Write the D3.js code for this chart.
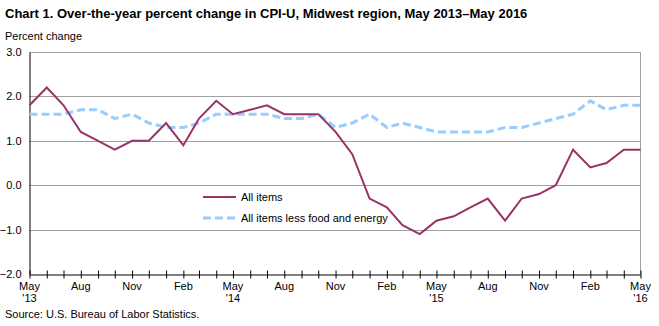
<!DOCTYPE html>
<html>
<head>
<meta charset="utf-8">
<script src="https://cdn.jsdelivr.net/npm/d3@7"></script>
<style>
    body { margin: 0; background: #fff; }
    svg { display: block; font-family: Arial, "Liberation Sans", sans-serif; }
</style>
</head>
<body>
<svg id="chart"></svg>
<script>
// monthly values, May 2013 .. May 2016
const months = d3.range(37).map(i => new Date(2013, 4 + i, 1));
const allItems = [1.8, 2.2, 1.8, 1.2, 1.0, 0.8, 1.0, 1.0, 1.4, 0.9, 1.5, 1.9,
    1.6, 1.7, 1.8, 1.6, 1.6, 1.6, 1.2, 0.7, -0.3, -0.5, -0.9, -1.1,
    -0.8, -0.7, -0.5, -0.3, -0.8, -0.3, -0.2, 0.0, 0.8, 0.4, 0.5, 0.8, 0.8];
const lessFoodEnergy = [1.6, 1.6, 1.6, 1.7, 1.7, 1.5, 1.6, 1.4, 1.3, 1.3, 1.4, 1.6,
    1.6, 1.6, 1.6, 1.5, 1.5, 1.6, 1.3, 1.4, 1.6, 1.3, 1.4, 1.3,
    1.2, 1.2, 1.2, 1.2, 1.3, 1.3, 1.4, 1.5, 1.6, 1.9, 1.7, 1.8, 1.8];
const yTicks = [3, 2, 1, 0, -1, -2];
const seriesNames = ["All items", "All items less food and energy"];

const WIDTH = 659, HEIGHT = 326;
const LEFT = 29.5, RIGHT = 640.5, TOP = 52, BOTTOM = 274;

const svg = d3.select("#chart")
    .attr("width", WIDTH)
    .attr("height", HEIGHT);

const x = d3.scaleTime()
    .domain([months[0], months[months.length - 1]])
    .range([LEFT, RIGHT]);
const y = d3.scaleLinear()
    .domain([-2, 3])
    .range([BOTTOM, TOP]);

svg.append("text")
    .attr("x", 5).attr("y", 17.5)
    .style("font-size", "13px")
    .style("font-weight", "bold")
    .text("Chart 1. Over-the-year percent change in CPI-U, Midwest region, May 2013\u2013May 2016");

svg.append("text")
    .attr("x", 5).attr("y", 40)
    .style("font-size", "11px")
    .text("Percent change");

// gridlines
svg.append("g")
    .selectAll("line")
    .data(yTicks.filter(t => t > -2))
    .enter()
    .append("line")
    .attr("x1", LEFT).attr("x2", RIGHT)
    .attr("y1", d => Math.round(y(d)) + 0.5)
    .attr("y2", d => Math.round(y(d)) + 0.5)
    .style("stroke", "#a0a0a0");

svg.append("line")
    .attr("x1", RIGHT).attr("x2", RIGHT)
    .attr("y1", TOP).attr("y2", BOTTOM)
    .style("stroke", "#a0a0a0");

// y axis
const yAxis = svg.append("g")
    .attr("transform", `translate(${LEFT},0)`)
    .call(d3.axisLeft(y).tickValues(yTicks).tickFormat(d3.format(".1f")).tickSize(0).tickPadding(8));
yAxis.select(".domain").style("stroke", "#000");
yAxis.selectAll("text").style("font-size", "11px").style("font-family", "Arial, 'Liberation Sans', sans-serif").attr("fill", "#000");

// x axis
const xAxis = svg.append("g")
    .attr("transform", `translate(0,${Math.round(BOTTOM) + 0.5})`)
    .call(d3.axisBottom(x).tickValues(months).tickSize(0).tickFormat(""));
xAxis.select(".domain").style("stroke", "#000");
xAxis.selectAll(".tick line")
    .attr("y1", -4).attr("y2", 4)
    .style("stroke", "#000");

const labelMonths = months.filter((d, i) => i % 3 == 0);
const labels = svg.append("g").selectAll("text")
    .data(labelMonths)
    .enter()
    .append("text")
    .attr("text-anchor", "middle")
    .style("font-size", "11px")
    .attr("transform", d => `translate(${[x(d), 290]})`);
labels.append("tspan")
    .attr("x", 0)
    .text(d => d3.timeFormat("%b")(d));
labels.filter(d => d.getMonth() == 4)
    .append("tspan")
    .attr("x", 0).attr("dy", 12)
    .text(d => "'" + d3.timeFormat("%y")(d));

// lines
const line = d3.line()
    .x((d, i) => x(months[i]))
    .y(d => y(d));

svg.append("path")
    .datum(lessFoodEnergy)
    .attr("d", line)
    .style("fill", "none")
    .style("stroke", "#99ccff")
    .style("stroke-width", 3)
    .style("stroke-dasharray", "8,4");

svg.append("path")
    .datum(allItems)
    .attr("d", line)
    .style("fill", "none")
    .style("stroke", "#993366")
    .style("stroke-width", 2);

// legend
const legend = svg.append("g")
    .attr("transform", "translate(203,0)");
[{ y: 197, color: "#993366", w: 2, dash: null },
 { y: 218, color: "#99ccff", w: 3, dash: "8,4" }].forEach(function (s, i) {
    legend.append("line")
        .attr("x1", 0).attr("x2", 33)
        .attr("y1", s.y).attr("y2", s.y)
        .style("stroke", s.color)
        .style("stroke-width", s.w)
        .style("stroke-dasharray", s.dash);
    legend.append("text")
        .attr("x", 38).attr("y", s.y + 4)
        .style("font-size", "11px")
        .text(seriesNames[i]);
});

svg.append("text")
    .attr("x", 5).attr("y", 318)
    .style("font-size", "11px")
    .text("Source: U.S. Bureau of Labor Statistics.");
</script>
</body>
</html>
